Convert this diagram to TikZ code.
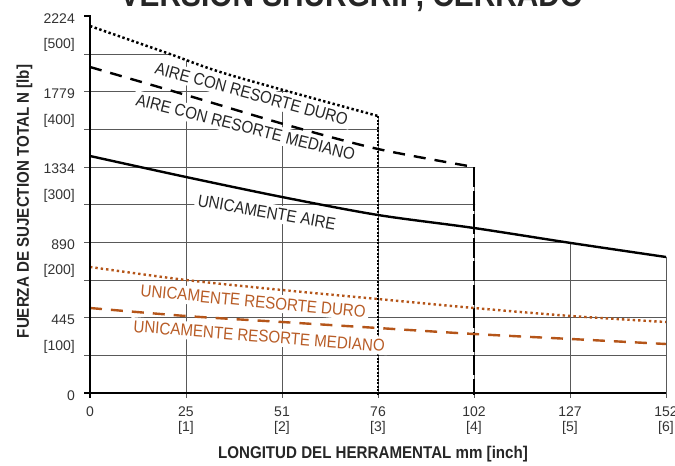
\documentclass[tikz,border=0pt]{standalone}
\usepackage{fontspec}
\setmainfont{Liberation Sans}
\newfontfamily\condfont{Liberation Sans}[FakeStretch=0.89]
\definecolor{rust}{RGB}{181,85,25}
\definecolor{rusttext}{RGB}{184,92,38}
\begin{document}
\begin{tikzpicture}[x=1pt,y=-1pt,
  gridline/.style={draw=black!65,line width=0.9pt},
  axisline/.style={draw=black,line width=1.8pt},
  ticklabel/.style={font=\fontsize{14}{14}\selectfont,text=black!80,inner sep=0pt},
  axistitle/.style={font=\condfont\bfseries\fontsize{17}{17}\selectfont,text=black!85,inner sep=0pt},
  curvelabel/.style={font=\condfont\fontsize{17}{17}\selectfont,fill=white,inner sep=3pt,anchor=base west},
  blackdots/.style={draw=black,line width=2.5pt,dash pattern=on 2.4pt off 2.5pt},
  densedots/.style={draw=black,line width=2.4pt,dash pattern=on 2pt off 1.5pt},
  blackdash/.style={draw=black,line width=2.4pt,dash pattern=on 12pt off 9pt},
  longdash/.style={draw=black,line width=2.4pt,dash pattern=on 20pt off 3.5pt},
  solidcurve/.style={draw=black,line width=2.4pt},
  rustdots/.style={draw=rust,line width=2.4pt,dash pattern=on 2.4pt off 3pt},
  rustdash/.style={draw=rust,line width=2.4pt,dash pattern=on 12pt off 9pt}]
\useasboundingbox[fill=white] (0,0) rectangle (675,466);

% title, partly above the page edge
\node[anchor=base,font=\condfont\bfseries\fontsize{33.5}{33.5}\selectfont,text=black!85] (title) at (351.5,6.5) {VERSION SHURGRIP, CERRADO};

% grid, kept below the upper envelope of the curves
\begin{scope}
  \clip (88,393.3) -- (88,26) -- plot[smooth] coordinates {(90,26) (167,53) (230,75) (378,116)}
    -- (379,116) -- (379,149) -- plot[smooth] coordinates {(378,149) (474,167)}
    -- (475,167) -- (475,228) -- plot[smooth] coordinates {(474,228) (571,243) (666,257)}
    -- (668,257) -- (668,393.3) -- cycle;
  \foreach \k in {1,...,10}
    \draw[gridline] (90,{393.3-37.7*\k}) -- (666,{393.3-37.7*\k});
  \foreach \i in {1,...,6}
    \draw[gridline] ({90+96*\i},393.3) -- ({90+96*\i},0);
\end{scope}

% ticks outside the plot area
\foreach \k in {1,...,10}
  \draw[gridline] (84,{393.3-37.7*\k}) -- (90,{393.3-37.7*\k});
\foreach \i in {1,...,6}
  \draw[gridline] ({90+96*\i},393.3) -- ({90+96*\i},397.5);

% drop lines at the end of the air-with-spring curves
\draw[densedots] (378,116) -- (378,395);
\draw[longdash] (474,167) -- (474,395);

% curve labels
\node[curvelabel,rotate=-15.3,text=black!85] (lduro) at (151.1,72.5) {AIRE CON RESORTE DURO};
\node[curvelabel,rotate=-14.3,text=black!85] (lmed) at (132.1,104.3) {AIRE CON RESORTE MEDIANO};
\node[curvelabel,rotate=-9.9,text=black!85] (laire) at (194,205.5) {UNICAMENTE AIRE};
\node[curvelabel,rotate=-5.4,text=rusttext] (lrduro) at (137,296.2) {UNICAMENTE RESORTE DURO};
\node[curvelabel,rotate=-4.5,text=rusttext] (lrmed) at (130,331.8) {UNICAMENTE RESORTE MEDIANO};

% curves
\draw[blackdots] plot[smooth] coordinates {(90,26) (167,53) (230,75) (378,116)};
\draw[blackdash] plot[smooth] coordinates {(90,67) (186,95) (287,125) (378,149) (474,167)};
\draw[solidcurve] plot[smooth] coordinates {(90,156) (186,177) (282,197) (378,215) (474,228) (571,243) (666,257)};
\draw[rustdots] plot[smooth] coordinates {(90,267) (186,280) (282,290) (378,299) (474,308) (571,316) (666,322)};
\draw[rustdash] plot[smooth] coordinates {(90,308) (186,316) (282,322) (378,328) (474,334) (571,339) (666,344)};

% axes
\draw[axisline] (84,16.3) -- (90,16.3) -- (90,397.5);
\draw[axisline] (84,393.3) -- (666,393.3);

% axis numbers
\foreach \k/\t in {0/0,2/445,4/890,6/1334,8/1779,10/2224}
  \node[ticklabel,anchor=east] (yn\k) at (75,{393.3-37.7*\k+2}) {\t};
\foreach \k/\t in {1/100,3/200,5/300,7/400,9/500}
  \node[ticklabel,anchor=east] (yl\k) at (75,{393.3-37.7*\k-9}) {[\t]};
\foreach \i/\t in {0/0,1/25,2/51,3/76,4/102,5/127,6/152}
  \node[ticklabel] (xn\i) at ({90+96*\i},411.5) {\t};
\foreach \i in {1,...,6}
  \node[ticklabel] (xl\i) at ({90+96*\i},428) {[\i]};

% axis titles
\node[axistitle] (xtitle) at (373,454) {LONGITUD DEL HERRAMENTAL mm [inch]};
\node[axistitle,rotate=90] (ytitle) at (24.5,201.5) {FUERZA DE SUJECTION TOTAL N [lb]};
\end{tikzpicture}
\end{document}
